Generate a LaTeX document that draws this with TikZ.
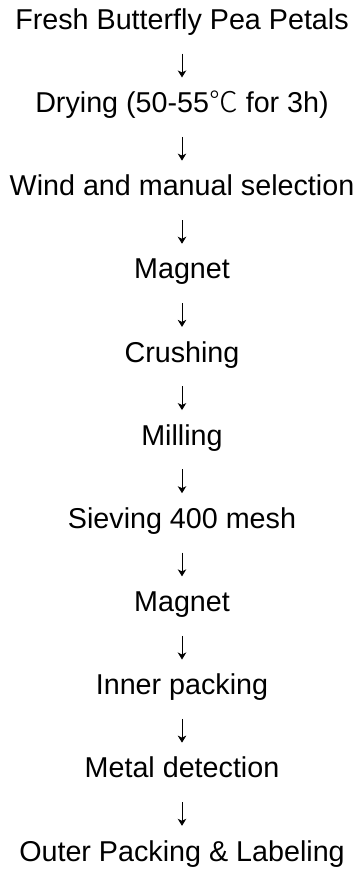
\documentclass[tikz,border=0pt]{standalone}
\usepackage{fontspec}
\setmainfont{Liberation Sans}
\newfontfamily\cjk{Noto Sans CJK SC Light}
\usetikzlibrary{arrows.meta}
\tikzset{
  stepbox/.style={anchor=base, inner sep=0pt, text height=20pt, text depth=6pt, font=\fontsize{28.7}{30}\selectfont},
  flowarrow/.style={-{Stealth[length=7pt,width=8.5pt,inset=2pt]}, line width=0.9pt, shorten <=18pt, shorten >=15pt}
}
\begin{document}
\begin{tikzpicture}[x=1pt,y=1pt]
\useasboundingbox (0,0) rectangle (364,-870);
\node[stepbox] (n1)  at (182,-29.5)  {Fresh Butterfly Pea Petals};
\node[stepbox] (n2)  at (182,-112.65) {Drying (50-55{\cjk ℃} for 3h)};
\node[stepbox] (n3)  at (182,-195.8) {Wind and manual selection};
\node[stepbox] (n4)  at (182,-278.95) {Magnet};
\node[stepbox] (n5)  at (182,-362.1) {Crushing};
\node[stepbox] (n6)  at (182,-445.25) {Milling};
\node[stepbox] (n7)  at (182,-528.4) {Sieving 400 mesh};
\node[stepbox] (n8)  at (182,-611.55) {Magnet};
\node[stepbox] (n9)  at (182,-694.7) {Inner packing};
\node[stepbox] (n10) at (182,-777.85) {Metal detection};
\node[stepbox] (n11) at (182,-861.0) {Outer Packing \& Labeling};
\foreach \a/\b in {n1/n2,n2/n3,n3/n4,n4/n5,n5/n6,n6/n7,n7/n8,n8/n9,n9/n10,n10/n11}
  \draw[flowarrow] (\a.south) -- (\b.north);
\end{tikzpicture}
\end{document}
